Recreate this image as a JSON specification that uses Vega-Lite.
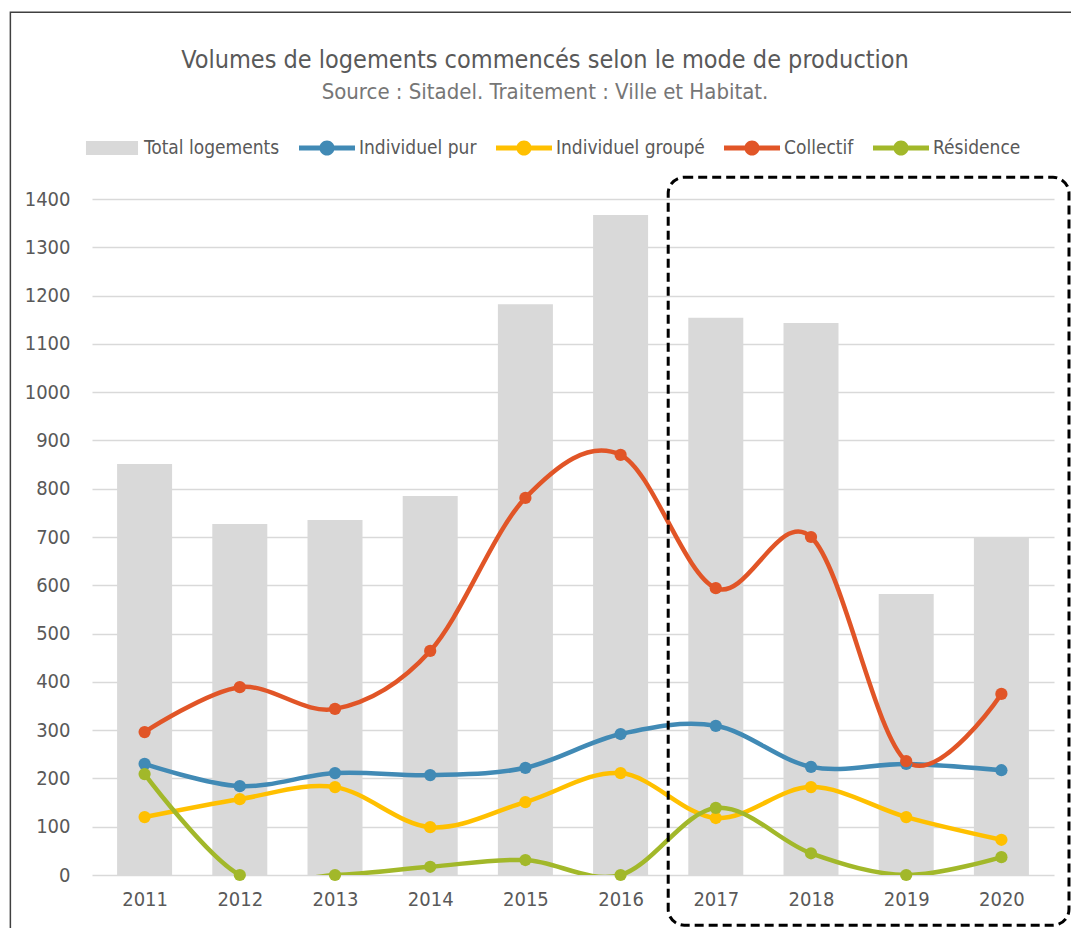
{
  "$schema": "https://vega.github.io/schema/vega-lite/v6.json",
  "width": 962,
  "height": 676,
  "autosize": {"type": "none"},
  "padding": {"left": 92, "top": 199, "right": 17, "bottom": 53},
  "background": "white",
  "config": {
    "font": "DejaVu Sans Condensed, sans-serif",
    "view": {"stroke": null}
  },
  "title": {
    "text": "Volumes de logements commencés selon le mode de production",
    "subtitle": "Source : Sitadel. Traitement : Ville et Habitat.",
    "anchor": "middle",
    "dx": -28,
    "offset": -92,
    "fontSize": 25,
    "fontWeight": "normal",
    "color": "#595959",
    "subtitleFontSize": 22,
    "subtitleColor": "#767676",
    "subtitlePadding": 9
  },
  "datasets": {
    "logements": [
      {"year": 2011, "serie": "Total logements", "value": 851},
      {"year": 2012, "serie": "Total logements", "value": 727},
      {"year": 2013, "serie": "Total logements", "value": 735},
      {"year": 2014, "serie": "Total logements", "value": 785},
      {"year": 2015, "serie": "Total logements", "value": 1182},
      {"year": 2016, "serie": "Total logements", "value": 1367},
      {"year": 2017, "serie": "Total logements", "value": 1154},
      {"year": 2018, "serie": "Total logements", "value": 1143},
      {"year": 2019, "serie": "Total logements", "value": 582},
      {"year": 2020, "serie": "Total logements", "value": 700},
      {"year": 2011, "serie": "Individuel pur", "value": 230},
      {"year": 2012, "serie": "Individuel pur", "value": 184},
      {"year": 2013, "serie": "Individuel pur", "value": 211},
      {"year": 2014, "serie": "Individuel pur", "value": 207},
      {"year": 2015, "serie": "Individuel pur", "value": 222},
      {"year": 2016, "serie": "Individuel pur", "value": 292},
      {"year": 2017, "serie": "Individuel pur", "value": 309},
      {"year": 2018, "serie": "Individuel pur", "value": 224},
      {"year": 2019, "serie": "Individuel pur", "value": 230},
      {"year": 2020, "serie": "Individuel pur", "value": 217},
      {"year": 2011, "serie": "Individuel groupé", "value": 120},
      {"year": 2012, "serie": "Individuel groupé", "value": 157},
      {"year": 2013, "serie": "Individuel groupé", "value": 182},
      {"year": 2014, "serie": "Individuel groupé", "value": 99},
      {"year": 2015, "serie": "Individuel groupé", "value": 151},
      {"year": 2016, "serie": "Individuel groupé", "value": 211},
      {"year": 2017, "serie": "Individuel groupé", "value": 118},
      {"year": 2018, "serie": "Individuel groupé", "value": 182},
      {"year": 2019, "serie": "Individuel groupé", "value": 120},
      {"year": 2020, "serie": "Individuel groupé", "value": 73},
      {"year": 2011, "serie": "Collectif", "value": 296},
      {"year": 2012, "serie": "Collectif", "value": 389},
      {"year": 2013, "serie": "Collectif", "value": 344},
      {"year": 2014, "serie": "Collectif", "value": 464},
      {"year": 2015, "serie": "Collectif", "value": 781},
      {"year": 2016, "serie": "Collectif", "value": 870},
      {"year": 2017, "serie": "Collectif", "value": 594},
      {"year": 2018, "serie": "Collectif", "value": 700},
      {"year": 2019, "serie": "Collectif", "value": 236},
      {"year": 2020, "serie": "Collectif", "value": 375},
      {"year": 2011, "serie": "Résidence", "value": 209},
      {"year": 2012, "serie": "Résidence", "value": 0},
      {"year": 2013, "serie": "Résidence", "value": 0},
      {"year": 2014, "serie": "Résidence", "value": 17},
      {"year": 2015, "serie": "Résidence", "value": 31},
      {"year": 2016, "serie": "Résidence", "value": 0},
      {"year": 2017, "serie": "Résidence", "value": 139},
      {"year": 2018, "serie": "Résidence", "value": 45},
      {"year": 2019, "serie": "Résidence", "value": 0},
      {"year": 2020, "serie": "Résidence", "value": 37}
    ]
  },
  "layer": [
    {
      "data": {"values": [{"k": 1}]},
      "mark": {"type": "rect", "filled": false, "color": "#404040", "strokeWidth": 1.5, "clip": false},
      "encoding": {
        "x": {
          "datum": 2009.59,
          "type": "quantitative",
          "scale": {"domain": [2010.5, 2020.5], "nice": false, "zero": false},
          "axis": {
            "values": [2011, 2012, 2013, 2014, 2015, 2016, 2017, 2018, 2019, 2020],
            "format": "d",
            "grid": false,
            "ticks": false,
            "domain": false,
            "title": null,
            "labelFontSize": 20,
            "labelColor": "#595959",
            "labelPadding": 14
          }
        },
        "x2": {"datum": 2022.5},
        "y": {
          "datum": 1787,
          "type": "quantitative",
          "scale": {"domain": [0, 1400], "nice": false},
          "axis": {
            "values": [0, 100, 200, 300, 400, 500, 600, 700, 800, 900, 1000, 1100, 1200, 1300, 1400],
            "format": "d",
            "grid": true,
            "gridColor": "#d9d9d9",
            "gridWidth": 1.5,
            "ticks": false,
            "domain": false,
            "title": null,
            "labelFontSize": 20,
            "labelColor": "#595959",
            "labelPadding": 22
          }
        },
        "y2": {"datum": -400}
      }
    },
    {
      "data": {"name": "logements"},
      "transform": [{"filter": "datum.serie === 'Total logements'"}],
      "mark": {"type": "bar", "size": 55},
      "encoding": {
        "x": {"field": "year", "type": "quantitative"},
        "y": {"field": "value", "type": "quantitative"},
        "color": {
          "field": "serie",
          "type": "nominal",
          "scale": {
            "domain": ["Total logements", "Individuel pur", "Individuel groupé", "Collectif", "Résidence"],
            "range": ["#d9d9d9", "#418ab5", "#ffc000", "#e15527", "#a2b82a"]
          },
          "legend": {
            "title": null,
            "orient": "none",
            "legendX": -8,
            "legendY": -79,
            "direction": "horizontal",
            "columns": 5,
            "columnPadding": 19,
            "labelFontSize": 19,
            "labelLimit": 400,
            "labelColor": "#595959",
            "labelOffset": 4,
            "symbolSize": 3136,
            "encode": {
              "symbols": {
                "update": {
                  "fill": {"scale": "color", "field": "value"},
                  "stroke": {"value": "transparent"},
                  "strokeWidth": {"value": 0},
                  "shape": {"scale": "shape", "field": "value"},
                  "opacity": {"value": 1},
                  "size": {"value": 3136}
                }
              }
            }
          }
        }
      }
    },
    {
      "data": {"name": "logements"},
      "transform": [{"filter": "datum.serie !== 'Total logements'"}],
      "mark": {"type": "line", "interpolate": "cardinal", "tension": 0, "strokeWidth": 4.5, "clip": true},
      "encoding": {
        "x": {"field": "year", "type": "quantitative"},
        "y": {"field": "value", "type": "quantitative"},
        "color": {"field": "serie", "type": "nominal"}
      }
    },
    {
      "data": {"name": "logements"},
      "transform": [{"filter": "datum.serie !== 'Total logements'"}],
      "mark": {"type": "point", "filled": true, "opacity": 1, "size": 150, "shape": "circle"},
      "encoding": {
        "x": {"field": "year", "type": "quantitative"},
        "y": {"field": "value", "type": "quantitative"},
        "color": {"field": "serie", "type": "nominal"}
      }
    },
    {
      "data": {"name": "logements"},
      "transform": [{"filter": "datum.value < -9999"}],
      "mark": {"type": "point", "filled": true, "opacity": 1},
      "encoding": {
        "x": {"field": "year", "type": "quantitative"},
        "y": {"field": "value", "type": "quantitative"},
        "color": {"field": "serie", "type": "nominal"},
        "shape": {
          "field": "serie",
          "type": "nominal",
          "scale": {
            "domain": ["Total logements", "Individuel pur", "Individuel groupé", "Collectif", "Résidence"],
            "range": [
              "M-0.93,-0.25H0.93V0.25H-0.93Z",
              "M-1,-0.09H1V0.09H-1Z M-0.27,0A0.27,0.27,0,1,1,0.27,0A0.27,0.27,0,1,1,-0.27,0Z",
              "M-1,-0.09H1V0.09H-1Z M-0.27,0A0.27,0.27,0,1,1,0.27,0A0.27,0.27,0,1,1,-0.27,0Z",
              "M-1,-0.09H1V0.09H-1Z M-0.27,0A0.27,0.27,0,1,1,0.27,0A0.27,0.27,0,1,1,-0.27,0Z",
              "M-1,-0.09H1V0.09H-1Z M-0.27,0A0.27,0.27,0,1,1,0.27,0A0.27,0.27,0,1,1,-0.27,0Z"
            ]
          }
        }
      }
    },
    {
      "data": {"values": [{"k": 1}]},
      "mark": {"type": "rect", "filled": false, "color": "black", "strokeWidth": 3, "strokeDash": [9, 5], "cornerRadius": 16, "clip": false},
      "encoding": {
        "x": {"datum": 2016.5, "type": "quantitative"},
        "x2": {"datum": 2020.71},
        "y": {"datum": 1445, "type": "quantitative"},
        "y2": {"datum": -104}
      }
    }
  ]
}
